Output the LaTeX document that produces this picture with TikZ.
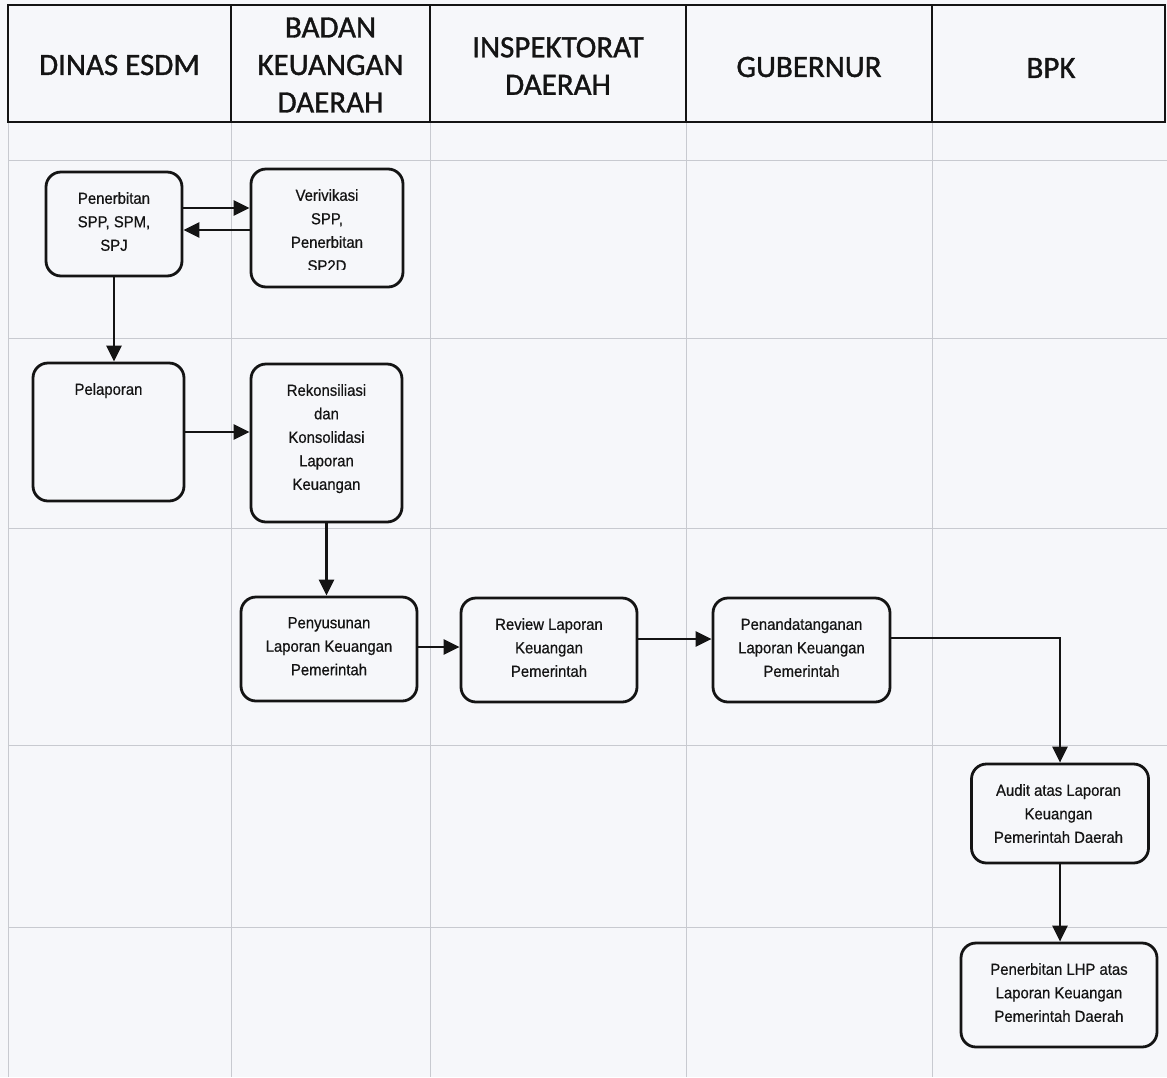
\documentclass[tikz,border=0pt]{standalone}
\usepackage{fontspec}
\setmainfont{Liberation Sans}[FakeStretch=0.93,FakeBold=0.6]
\newfontfamily\hdrfont{Carlito}[FakeBold=1.2]
\usetikzlibrary{arrows.meta}
\definecolor{paper}{RGB}{246,247,250}
\definecolor{gridc}{RGB}{200,202,208}
\definecolor{ink}{RGB}{20,20,20}
\tikzset{
  box/.style={draw=ink, line width=2.8pt, rounded corners=15pt, inner sep=0pt},
  boxtext/.style={anchor=north, align=center, inner sep=0pt, text=ink, font=\fontsize{16}{23.5}\selectfont},
  hdrcell/.style={draw=ink, line width=1.8pt, inner sep=0pt},
  hdr/.style={align=center, inner sep=0pt, text=ink, font=\hdrfont\fontsize{31}{37.5}\selectfont},
  arr/.style={draw=ink, line width=2.4pt, -{Triangle[length=16pt,width=15pt]}},
  gridline/.style={draw=gridc, line width=1pt},
}
\begin{document}
\begin{tikzpicture}[x=1pt,y=-1pt]
\fill[paper] (0,0) rectangle (1167,1077);
\useasboundingbox (0,0) rectangle (1167,1077);
% faint grid
\foreach \gx in {8,231,430,686,932} \draw[gridline] (\gx,122) -- (\gx,1077);
\foreach \gy in {160,338,528,745,927} \draw[gridline] (8,\gy) -- (1167,\gy);
% header cells
\node[hdrcell, minimum width=223pt, minimum height=117pt] (h1) at (119.5,63.5) {};
\node[hdrcell, minimum width=199pt, minimum height=117pt] (h2) at (330.5,63.5) {};
\node[hdrcell, minimum width=256pt, minimum height=117pt] (h3) at (558,63.5) {};
\node[hdrcell, minimum width=246pt, minimum height=117pt] (h4) at (809,63.5) {};
\node[hdrcell, minimum width=233pt, minimum height=117pt] (h5) at (1048.5,63.5) {};
\node[hdr] (t1) at (119.5,65) {DINAS ESDM};
\node[hdr] (t2) at (330.5,65) {BADAN\\KEUANGAN\\DAERAH};
\node[hdr] (t3) at (558,66) {INSPEKTORAT\\DAERAH};
\node[hdr] (t4) at (809,67) {GUBERNUR};
\node[hdr] (t5) at (1051,68) {BPK};
% boxes
\node[box, minimum width=136pt, minimum height=104pt] (n1) at (114,224) {};
\node[box, minimum width=152pt, minimum height=118pt] (n2) at (327,228) {};
\node[box, minimum width=151pt, minimum height=138pt] (n3) at (108.5,432) {};
\node[box, minimum width=151pt, minimum height=158pt] (n4) at (326.5,443) {};
\node[box, minimum width=176pt, minimum height=104pt] (n5) at (329,649) {};
\node[box, minimum width=176pt, minimum height=104pt] (n6) at (549,650) {};
\node[box, minimum width=177pt, minimum height=104pt] (n7) at (801.5,650) {};
\node[box, minimum width=177pt, minimum height=99pt] (n8) at (1060,813.5) {};
\node[box, minimum width=196pt, minimum height=104pt] (n9) at (1059,995) {};
% texts
\node[boxtext] (n1t) at (114,192) {Penerbitan\\SPP, SPM,\\SPJ};
\begin{scope}
  \clip (250,168) rectangle (404,269);
  \node[boxtext] (n2t) at (327,189) {Verivikasi\\SPP,\\Penerbitan\\SP2D};
\end{scope}
\node[boxtext] (n3t) at (108.5,383) {Pelaporan};
\node[boxtext] (n4t) at (326.5,384) {Rekonsiliasi\\dan\\Konsolidasi\\Laporan\\Keuangan};
\node[boxtext] (n5t) at (329,617) {Penyusunan\\Laporan Keuangan\\Pemerintah};
\node[boxtext] (n6t) at (549,618) {Review Laporan\\Keuangan\\Pemerintah};
\node[boxtext] (n7t) at (801.5,618) {Penandatanganan\\Laporan Keuangan\\Pemerintah};
\node[boxtext] (n8t) at (1058.5,784) {Audit atas Laporan\\Keuangan\\Pemerintah Daerah};
\node[boxtext] (n9t) at (1059,963) {Penerbitan LHP atas\\Laporan Keuangan\\Pemerintah Daerah};
% connectors
\draw[arr] ([yshift=16pt]n1.east) -- ([yshift=16pt]n1.east -| n2.west);
\draw[arr] ([yshift=-2pt]n2.west) -- ([yshift=-2pt]n2.west -| n1.east);
\draw[arr] (n1.south) -- (n1.south |- n3.north);
\draw[arr] (n3.east) -- (n3.east -| n4.west);
\draw[arr] (n4.south) -- (n4.south |- n5.north);
\draw[arr] ([yshift=2pt]n5.east) -- ([yshift=2pt]n5.east -| n6.west);
\draw[arr] ([yshift=11pt]n6.east) -- ([yshift=11pt]n6.east -| n7.west);
\draw[arr] ([yshift=12pt]n7.east) -| (n8.north);
\draw[arr] (n8.south) -- (n8.south |- n9.north);
\end{tikzpicture}
\end{document}
